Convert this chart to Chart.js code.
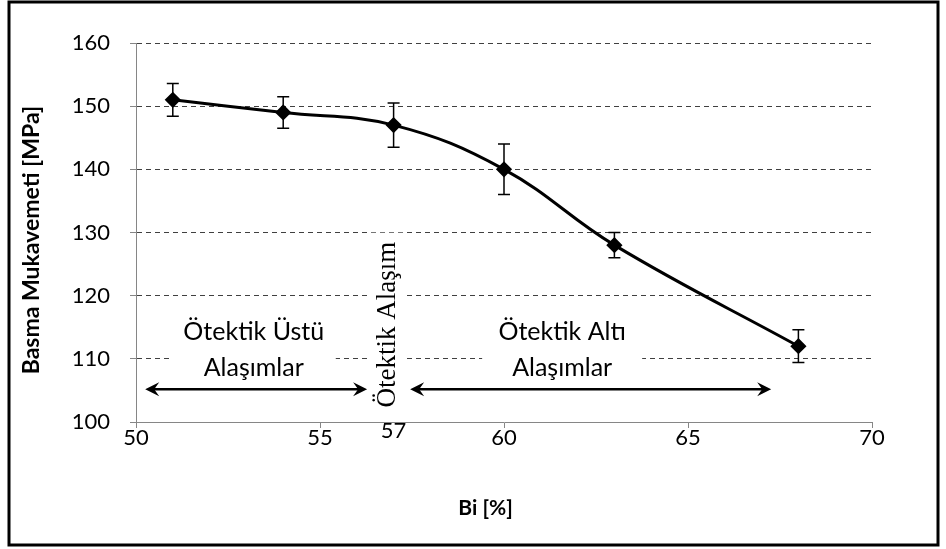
<!DOCTYPE html>
<html><head><meta charset="utf-8">
<script src="https://cdn.jsdelivr.net/npm/chart.js@4/dist/chart.umd.min.js"></script>
<style>html,body{margin:0;padding:0;background:#fff;}</style>
</head><body>
<canvas id="c" width="946" height="549" style="width:946px;height:549px;display:block"></canvas>
<script>
// ---- data ----
const biPercent = [51, 54, 57, 60, 63, 68];
const strength = [151, 149, 147, 140, 128, 112];
const errPlus = [2.6, 2.5, 3.5, 4.0, 2.0, 2.6];
const errMinus = [2.6, 2.5, 3.5, 4.0, 2.0, 2.6];
const xTickValues = [50, 55, 60, 65, 70];
const extraXTickValues = [57];
const yTickValues = [100, 110, 120, 130, 140, 150, 160];
const xTitle = 'Bi [%]';
const yTitle = 'Basma Mukavemeti [MPa]';
const regionLabelsLeft = ['Ötektik Üstü', 'Alaşımlar'];
const regionLabelsRight = ['Ötektik Altı', 'Alaşımlar'];
const eutecticLabel = 'Ötektik Alaşım';

const SANS = 'Lato, "Open Sans", sans-serif';
const SERIF = '"Liberation Serif", "DejaVu Serif", serif';

function arrowHead(ctx, x, y, dir) {
  ctx.beginPath();
  ctx.moveTo(x, y);
  ctx.lineTo(x - dir * 14, y - 7);
  ctx.lineTo(x - dir * 9, y);
  ctx.lineTo(x - dir * 14, y + 7);
  ctx.closePath();
  ctx.fill();
}
function doubleArrow(ctx, x1, x2, y) {
  ctx.save();
  ctx.strokeStyle = '#000'; ctx.fillStyle = '#000'; ctx.lineWidth = 2.5;
  ctx.beginPath(); ctx.moveTo(x1 + 8, y); ctx.lineTo(x2 - 8, y); ctx.stroke();
  arrowHead(ctx, x1, y, -1);
  arrowHead(ctx, x2, y, 1);
  ctx.restore();
}

const extrasPlugin = {
  id: 'extras',
  afterDatasetsDraw(chart) {
    const ctx = chart.ctx, xs = chart.scales.x, ys = chart.scales.y;
    // error bars
    ctx.save();
    ctx.strokeStyle = '#000'; ctx.lineWidth = 1.5;
    biPercent.forEach((b, i) => {
      const px = xs.getPixelForValue(b);
      const top = ys.getPixelForValue(strength[i] + errPlus[i]);
      const bot = ys.getPixelForValue(strength[i] - errMinus[i]);
      ctx.beginPath();
      ctx.moveTo(px, top); ctx.lineTo(px, bot);
      ctx.moveTo(px - 6, top); ctx.lineTo(px + 6, top);
      ctx.moveTo(px - 6, bot); ctx.lineTo(px + 6, bot);
      ctx.stroke();
    });
    ctx.restore();

    // region labels with white boxes
    ctx.save();
    ctx.fillStyle = '#fff';
    const lx = xs.getPixelForValue(53.2), rx = xs.getPixelForValue(61.58);
    const y1 = ys.getPixelForValue(114.2), y2 = ys.getPixelForValue(108.5);
    ctx.fillRect(lx - 82, y1 - 17, 164, y2 - y1 + 34);
    ctx.fillRect(rx - 80, y1 - 17, 160, y2 - y1 + 34);
    const vx = xs.getPixelForValue(56.82), vy = ys.getPixelForValue(115.4);
    ctx.fillRect(vx - 17, vy - 92, 34, 184);
    ctx.fillStyle = '#000';
    ctx.font = '25px ' + SANS;
    ctx.textAlign = 'center'; ctx.textBaseline = 'middle';
    ctx.fillText(regionLabelsLeft[0], lx, y1);
    ctx.fillText(regionLabelsLeft[1], lx, y2);
    ctx.fillText(regionLabelsRight[0], rx, y1);
    ctx.fillText(regionLabelsRight[1], rx, y2);
    ctx.translate(vx, vy); ctx.rotate(-Math.PI / 2);
    ctx.font = '27px ' + SERIF;
    ctx.fillText(eutecticLabel, 0, 1);
    ctx.restore();

    const ay = ys.getPixelForValue(105.2);
    doubleArrow(ctx, xs.getPixelForValue(50.25), xs.getPixelForValue(56.28), ay);
    doubleArrow(ctx, xs.getPixelForValue(57.45), xs.getPixelForValue(67.26), ay);
  },
  afterDraw(chart) {
    const ctx = chart.ctx, xs = chart.scales.x, ys = chart.scales.y;
    ctx.save();
    ctx.fillStyle = '#000';
    ctx.font = '22px ' + SANS;
    ctx.textAlign = 'center'; ctx.textBaseline = 'middle';
    extraXTickValues.forEach(v => {
      ctx.fillText(String(v), xs.getPixelForValue(v), xs.top + 9);
    });
    ctx.font = 'bold 21px ' + SANS;
    ctx.fillText(xTitle, xs.getPixelForValue(59.5), 508);
    ctx.save();
    ctx.translate(32, ys.getPixelForValue(128.8));
    ctx.rotate(-Math.PI / 2);
    ctx.font = 'bold 23px ' + SANS;
    ctx.fillText(yTitle, 0, 0);
    ctx.restore();
    ctx.strokeStyle = '#000'; ctx.lineWidth = 3;
    ctx.strokeRect(9, 2, 929, 543);
    ctx.restore();
  }
};

new Chart(document.getElementById('c'), {
  type: 'scatter',
  data: {
    datasets: [{
      data: biPercent.map((b, i) => ({x: b, y: strength[i]})),
      showLine: true,
      borderColor: '#000',
      backgroundColor: '#000',
      borderWidth: 3,
      tension: 0.4,
      pointStyle: 'rectRot',
      pointRadius: 6,
      pointHoverRadius: 6
    }]
  },
  options: {
    responsive: false,
    devicePixelRatio: 1,
    animation: false,
    layout: {padding: {left: 10, right: 74, top: 43, bottom: 25}},
    plugins: {legend: {display: false}, tooltip: {enabled: false}},
    scales: {
      x: {
        type: 'linear', min: 50, max: 70,
        afterBuildTicks: s => { s.ticks = xTickValues.map(v => ({value: v})); },
        afterFit: s => { s.height = 102; },
        grid: {drawOnChartArea: false, color: '#868686', tickLength: 6},
        border: {color: '#868686', width: 1},
        ticks: {color: '#000', font: {family: SANS, size: 22}, padding: -3, maxRotation: 0}
      },
      y: {
        min: 100, max: 160,
        afterBuildTicks: s => { s.ticks = yTickValues.map(v => ({value: v})); },
        afterFit: s => { s.width = 126; },
        grid: {color: '#404040', tickBorderDash: [], tickColor: '#868686', tickLength: 6, drawTicks: true},
        border: {color: '#868686', width: 1, dash: [5, 4]},
        ticks: {color: '#000', font: {family: SANS, size: 22}, padding: 20},
        title: {display: false}
      }
    }
  },
  plugins: [extrasPlugin]
});
</script>
</body></html>
